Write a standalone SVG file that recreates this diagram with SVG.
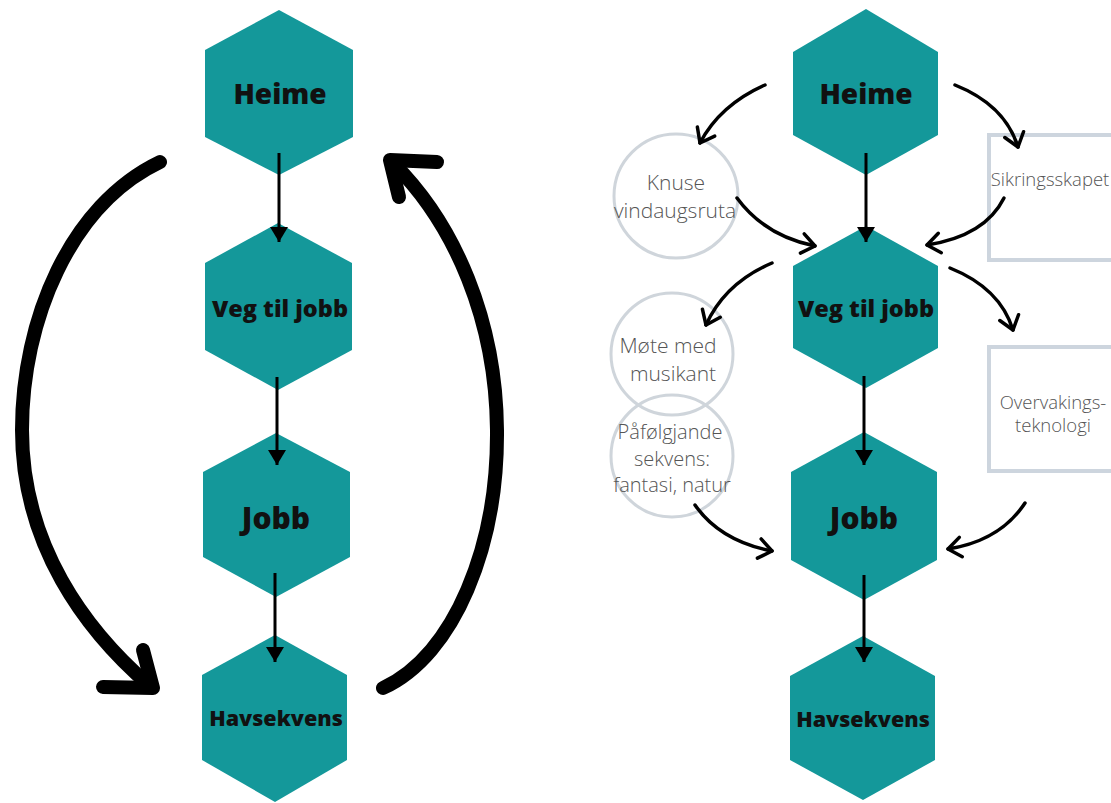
<svg xmlns="http://www.w3.org/2000/svg" width="1111" height="803" viewBox="0 0 1111 803">
<style>
.hex{fill:#14989a}
.ht{font-family:"Open Sans","Liberation Sans",sans-serif;font-weight:800;fill:#111;text-anchor:middle}
.circ{fill:none;stroke:#cfd5db;stroke-width:3}
.box{fill:#fff;stroke:#cdd5de;stroke-width:4}
.lt{font-family:"Open Sans","Liberation Sans",sans-serif;font-weight:300;fill:#555;text-anchor:middle}
.big{fill:none;stroke:#000;stroke-width:14;stroke-linecap:round;stroke-linejoin:round}
.str{fill:none;stroke:#000;stroke-width:3}
.cur{fill:none;stroke:#000;stroke-width:3.5;stroke-linecap:round}
</style>
<defs>
<marker id="tri" markerWidth="6" markerHeight="6" refX="5" refY="3" orient="auto" markerUnits="strokeWidth">
<path d="M0,0 L5,3 L0,6 Z" fill="#000"/>
</marker>
<marker id="chev" markerWidth="8" markerHeight="8" refX="6.5" refY="4" orient="auto" markerUnits="strokeWidth">
<path d="M2.8,1.2 L6.5,4 L2.8,6.8" fill="none" stroke="#000" stroke-width="1" stroke-linecap="round" stroke-linejoin="round"/>
</marker>
</defs>

<g id="left-heime"><polygon class="hex" points="279,10 353,50 353,137 279,175 205,137 205,50"/><text class="ht" x="280" y="104" font-size="28">Heime</text></g>
<g id="left-veg"><polygon class="hex" points="278,223 352,263 352,350 278,390 205,350 205,263"/><text class="ht" x="280" y="317" font-size="23.5">Veg til jobb</text></g>
<g id="left-jobb"><polygon class="hex" points="276,433 350,472 350,557 276,597 203,557 203,472"/><text class="ht" x="276" y="529" font-size="30">Jobb</text></g>
<g id="left-havs"><polygon class="hex" points="275,635 347,675 347,760 275,802 202,760 202,675"/><text class="ht" x="276" y="726" font-size="21.5">Havsekvens</text></g>

<g id="right-heime"><polygon class="hex" points="866,9 938,52 938,135 866,175 793,135 793,52"/><text class="ht" x="866" y="104" font-size="28">Heime</text></g>
<g id="right-veg"><polygon class="hex" points="866,226 938,266 938,348 866,388 793,348 793,266"/><text class="ht" x="866" y="317" font-size="23.5">Veg til jobb</text></g>
<g id="right-jobb"><polygon class="hex" points="864,432 937,472 937,560 864,600 791,560 791,472"/><text class="ht" x="864" y="529" font-size="30">Jobb</text></g>
<g id="right-havs"><polygon class="hex" points="863,636 935,676 935,760 863,800 790,760 790,676"/><text class="ht" x="863" y="727" font-size="21.5">Havsekvens</text></g>

<g id="knuse"><circle class="circ" cx="676" cy="196" r="62"/><text class="lt" x="676" y="190" font-size="21">Knuse</text><text class="lt" x="675" y="218" font-size="21">vindaugsruta</text></g>
<g id="mote"><circle class="circ" cx="672" cy="354" r="61"/><text class="lt" x="668" y="353" font-size="21">Møte med</text><text class="lt" x="673" y="381" font-size="21">musikant</text></g>
<g id="pafolgjande"><circle class="circ" cx="672" cy="456" r="61"/><text class="lt" x="670" y="439" font-size="20">Påfølgjande</text><text class="lt" x="672" y="466" font-size="20">sekvens:</text><text class="lt" x="672" y="492" font-size="20">fantasi, natur</text></g>
<g id="sikring"><rect class="box" x="989" y="135" width="130" height="125"/><text class="lt" x="1050" y="186" font-size="18.5">Sikringsskapet</text></g>
<g id="overvaking"><rect class="box" x="989" y="347" width="130" height="124"/><text class="lt" x="1053" y="409" font-size="18.5">Overvakings-</text><text class="lt" x="1053" y="432" font-size="18.5">teknologi</text></g>

<g id="connectors">
<path class="big" d="M160,162 C70,205 22,320 22,430 C22,545 85,630 150,686"/>
<path class="big" d="M103,687 L153,688 L143,650"/>
<path class="big" d="M383,688 C455,655 498,545 497,430 C496,320 455,225 394,164"/>
<path class="big" d="M437,162 L390,160 L399,197"/>

<line class="str" x1="279" y1="153" x2="279" y2="242" marker-end="url(#tri)"/>
<line class="str" x1="277" y1="377" x2="277" y2="465" marker-end="url(#tri)"/>
<line class="str" x1="275" y1="573" x2="275" y2="662" marker-end="url(#tri)"/>
<line class="str" x1="866" y1="153" x2="866" y2="242" marker-end="url(#tri)"/>
<line class="str" x1="864" y1="376" x2="864" y2="465" marker-end="url(#tri)"/>
<line class="str" x1="864" y1="575" x2="864" y2="662" marker-end="url(#tri)"/>

<path class="cur" d="M765,85 Q720,105 700,143" marker-end="url(#chev)"/>
<path class="cur" d="M737,198 Q765,236 815,246" marker-end="url(#chev)"/>
<path class="cur" d="M955,85 Q1005,105 1018,147" marker-end="url(#chev)"/>
<path class="cur" d="M1004,198 Q985,236 927,245" marker-end="url(#chev)"/>
<path class="cur" d="M772,263 Q725,283 706,325" marker-end="url(#chev)"/>
<path class="cur" d="M950,268 Q1000,288 1013,330" marker-end="url(#chev)"/>
<path class="cur" d="M695,505 Q720,541 772,551" marker-end="url(#chev)"/>
<path class="cur" d="M1025,503 Q1000,541 948,549" marker-end="url(#chev)"/>
</g>
</svg>
